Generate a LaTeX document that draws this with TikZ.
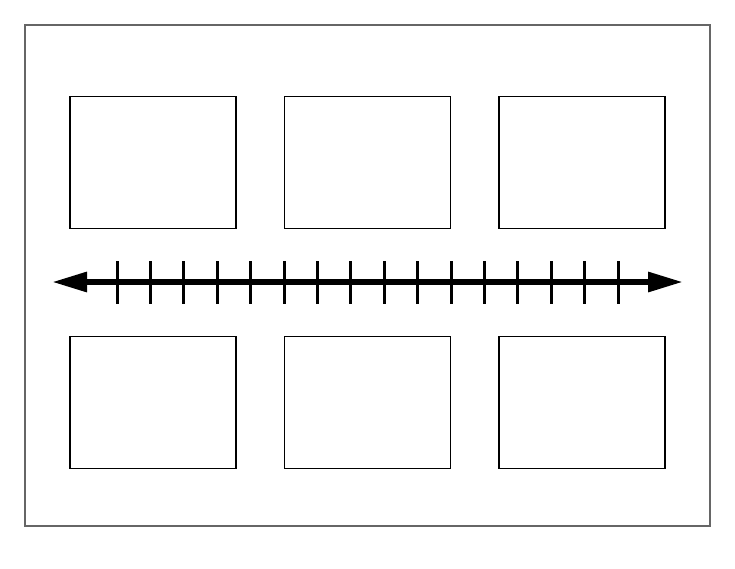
\documentclass[tikz,border=0pt]{standalone}
\usetikzlibrary{arrows.meta}
\begin{document}
\begin{tikzpicture}[x=1pt,y=-1pt,
  framebox/.style={draw=black!60,line width=1.2pt},
  panel/.style={draw=black,line width=1.6pt,minimum width=166pt,minimum height=132pt,inner sep=0pt,outer sep=0pt},
  tickmark/.style={line width=3pt},
  axis/.style={line width=6pt,{Triangle[length=35pt,width=19pt]}-{Triangle[length=35pt,width=19pt]}}]
\useasboundingbox (0,0) rectangle (735,568);
\fill[white] (0,0) rectangle (735,568);
\draw[framebox] (25,25) rectangle (710,526);
\node[panel] (b1) at (153,162.6) {};
\node[panel] (b2) at (367.4,162.6) {};
\node[panel] (b3) at (582,162.6) {};
\node[panel] (b4) at (153,402.3) {};
\node[panel] (b5) at (367.4,402.3) {};
\node[panel] (b6) at (582,402.3) {};
\coordinate (L) at (52,282);
\coordinate (R) at (683,282);
\foreach \i in {0,...,15} {
  \draw[tickmark] (117+\i*33.4,261) -- (117+\i*33.4,304);
}
\draw[axis] (L) -- (R);
\end{tikzpicture}
\end{document}
